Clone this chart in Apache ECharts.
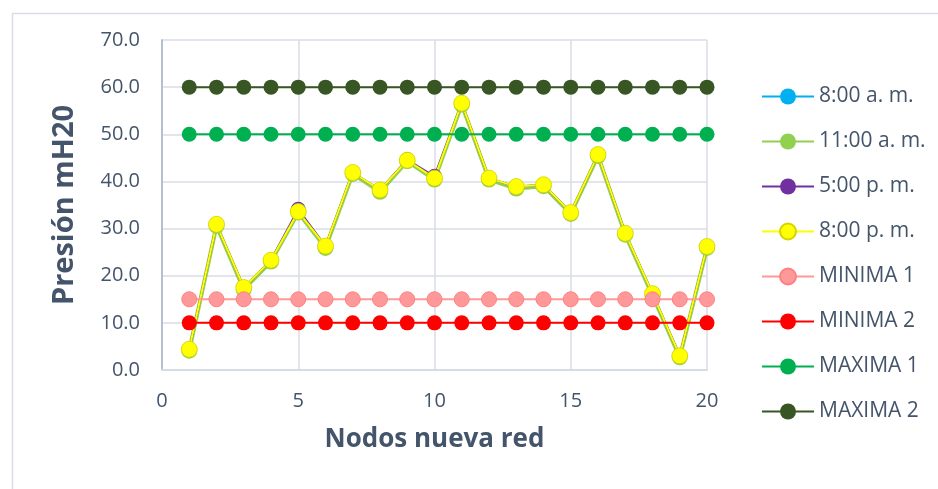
<!DOCTYPE html>
<html>
<head>
<meta charset="utf-8">
<script src="https://cdn.jsdelivr.net/npm/echarts@6/dist/echarts.min.js"></script>
<style>
  html, body { margin: 0; padding: 0; background: #fff; }
  #main { width: 938px; height: 489px; }
</style>
</head>
<body>
<div id="main"></div>
<script>
// nodes on the x axis
const nodos = [1,2,3,4,5,6,7,8,9,10,11,12,13,14,15,16,17,18,19,20];

// pressures (mH20)
const am8  = [4.4,30.9,17.4,23.3,33.7,26.2,41.9,38.1,44.6,40.7,56.6,40.7,38.8,39.3,33.4,45.7,29.0,16.1,3.0,26.2];
const am11 = [4.1,30.6,17.1,23.0,33.4,25.9,41.6,37.8,44.3,40.4,56.3,40.4,38.5,39.0,33.1,45.4,28.7,15.8,2.7,25.9];
const pm5  = [4.4,30.9,17.5,23.3,34.1,26.3,41.9,38.2,44.6,41.1,56.6,40.7,38.9,39.3,33.4,45.7,29.0,16.2,3.0,26.2];
const pm8  = [4.4,30.9,17.5,23.3,33.6,26.3,41.9,38.2,44.5,40.7,56.6,40.7,38.9,39.3,33.4,45.7,29.0,16.2,3.0,26.2];
const minima1 = [15,15,15,15,15,15,15,15,15,15,15,15,15,15,15,15,15,15,15,15];
const minima2 = [10,10,10,10,10,10,10,10,10,10,10,10,10,10,10,10,10,10,10,10];
const maxima1 = [50,50,50,50,50,50,50,50,50,50,50,50,50,50,50,50,50,50,50,50];
const maxima2 = [60,60,60,60,60,60,60,60,60,60,60,60,60,60,60,60,60,60,60,60];

const yTicks = [0,10,20,30,40,50,60,70];
const xTicks = [0,5,10,15,20];

const txt = '#44546A';
const font = '"Open Sans", "Noto Sans", sans-serif';

function pairs(vals) {
  return nodos.map(function (n, i) { return [n, vals[i]]; });
}

function serie(name, vals, color, opts) {
  opts = opts || {};
  return {
    name: name,
    type: 'line',
    data: pairs(vals),
    symbol: 'circle',
    symbolSize: opts.size || 15,
    color: color,
    lineStyle: { color: color, width: opts.width || 2 },
    itemStyle: {
      color: color,
      borderColor: opts.border || color,
      borderWidth: opts.borderWidth || 0
    },
    emphasis: { disabled: true },
    animation: false
  };
}

var myChart = echarts.init(document.getElementById('main'));

var option = {
  backgroundColor: '#fff',
  graphic: [{
    type: 'rect',
    left: 10, top: 11,
    shape: { width: 940, height: 490 },
    style: { fill: 'none', stroke: '#D9DEE6', lineWidth: 1.5 },
    silent: true
  }],
  grid: { left: 162, top: 40, right: 231, bottom: 119 },
  legend: {
    orient: 'vertical',
    left: 761,
    top: 86,
    padding: 0,
    itemWidth: 52,
    itemHeight: 20,
    itemGap: 24,
    textStyle: { color: txt, fontSize: 21, fontFamily: font, padding: [0, 0, 0, 0] },
    data: ['8:00 a. m.', '11:00 a. m.', '5:00 p. m.', '8:00 p. m.', 'MINIMA 1', 'MINIMA 2', 'MAXIMA 1', 'MAXIMA 2']
  },
  xAxis: {
    type: 'value',
    min: 0, max: 20, interval: 5,
    name: 'Nodos nueva red',
    nameLocation: 'middle',
    nameGap: 57,
    nameTextStyle: { color: txt, fontSize: 26, fontWeight: 'bold', fontFamily: font },
    axisLine: { show: true, lineStyle: { color: '#D6DCE5', width: 2 } },
    axisTick: { show: false },
    axisLabel: {
      color: txt, fontSize: 20, fontFamily: font, margin: 21,
      formatter: function (v) { return xTicks.indexOf(v) >= 0 ? String(v) : ''; }
    },
    splitLine: { show: true, lineStyle: { color: '#D9DEE6', width: 1.5 } }
  },
  yAxis: {
    type: 'value',
    min: 0, max: 70, interval: 10,
    name: 'Presión mH20',
    nameLocation: 'middle',
    nameGap: 83,
    nameRotate: 90,
    nameTextStyle: { color: txt, fontSize: 29, fontWeight: 'bold', fontFamily: font },
    axisLine: { show: true, lineStyle: { color: '#B4C0D0', width: 2 } },
    axisTick: { show: false },
    axisLabel: {
      color: txt, fontSize: 20, fontFamily: font, margin: 22,
      formatter: function (v) { return yTicks.indexOf(v) >= 0 ? v.toFixed(1) : ''; }
    },
    splitLine: { show: true, lineStyle: { color: '#D9DEE6', width: 1.5 } }
  },
  series: [
    serie('8:00 a. m.', am8, '#00B0F0'),
    serie('11:00 a. m.', am11, '#92D050', { width: 4, size: 16 }),
    serie('5:00 p. m.', pm5, '#7030A0'),
    serie('8:00 p. m.', pm8, '#FFFF00', { width: 2, size: 16, border: '#D4D400', borderWidth: 0.8 }),
    serie('MINIMA 1', minima1, '#FF9999', { border: '#FF8080', borderWidth: 1 }),
    serie('MINIMA 2', minima2, '#FF0000'),
    serie('MAXIMA 1', maxima1, '#00B050'),
    serie('MAXIMA 2', maxima2, '#375623')
  ]
};

myChart.setOption(option);
</script>
</body>
</html>
